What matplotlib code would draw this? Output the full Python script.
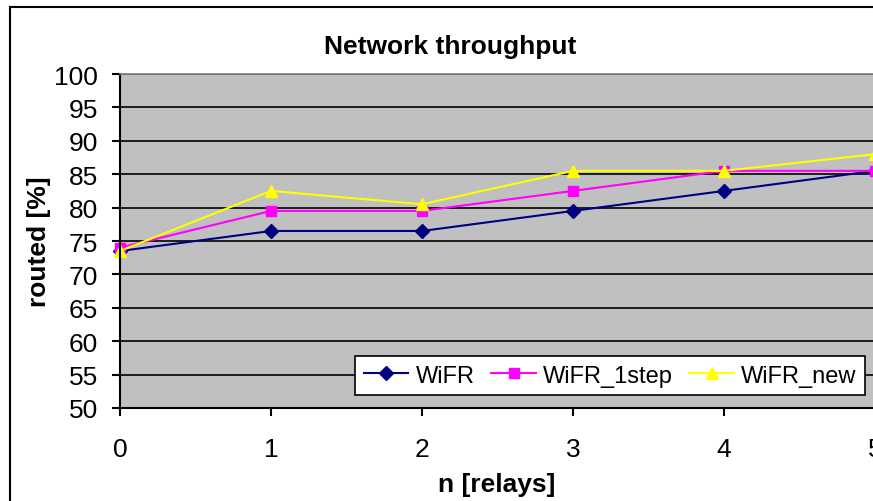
import matplotlib
matplotlib.use("Agg")
import matplotlib.pyplot as plt
from matplotlib.patches import Rectangle

plt.rcParams['font.family'] = ['Liberation Sans', 'DejaVu Sans']

relays = [0, 1, 2, 3, 4, 5]
wifr = [73.5, 76.5, 76.5, 79.5, 82.5, 85.5]
wifr_1step = [74.0, 79.5, 79.5, 82.5, 85.5, 85.5]
wifr_new = [73.5, 82.5, 80.5, 85.5, 85.5, 88.0]
y_ticks = list(range(50, 101, 5))

W, H = 873, 502
fig = plt.figure(figsize=(W / 100, H / 100), dpi=100)

# outer chart frame (extends past the right and bottom edges)
fig.patches.append(Rectangle((10 / W, -0.05), 1.2, 1 - 8 / H + 0.05,
                             transform=fig.transFigure, fill=False,
                             edgecolor='black', linewidth=1.5))

ax_left, ax_bottom, ax_w, ax_h = 120, 409, 755, 334
ax = fig.add_axes([ax_left / W, (H - ax_bottom) / H, ax_w / W, ax_h / H])
ax.set_facecolor('#C0C0C0')

ax.plot(relays, wifr, color='#000080', marker='D', markersize=7, linewidth=1.5,
        label='WiFR', clip_on=False)
ax.plot(relays, wifr_1step, color='#FF00FF', marker='s', markersize=7, linewidth=1.5,
        label='WiFR_1step', clip_on=False)
ax.plot(relays, wifr_new, color='#FFFF00', marker='^', markersize=9, linewidth=1.5,
        label='WiFR_new', clip_on=False)

ax.set_xlim(0, 5)
ax.set_ylim(50, 100)
ax.set_yticks(y_ticks)
ax.set_xticks(relays)
ax.yaxis.grid(True, color='black', linewidth=1.2)
ax.set_axisbelow(True)

for side in ('top', 'right'):
    ax.spines[side].set_color('#808080')
    ax.spines[side].set_linewidth(1.2)
ax.spines['left'].set_linewidth(1.5)
ax.spines['bottom'].set_linewidth(1.5)

ax.tick_params(axis='y', direction='out', length=6, width=1.5, labelsize=19, pad=10)
ax.tick_params(axis='x', direction='out', length=6, width=1.5, labelsize=19, pad=15)

ax.set_title('Network throughput', fontsize=19, fontweight='bold', pad=15,
             x=(450 - ax_left) / ax_w)
ax.set_ylabel('routed [%]', fontsize=19, fontweight='bold', labelpad=2)
ax.set_xlabel('n [relays]', fontsize=19, fontweight='bold', labelpad=8,
              x=(497 - ax_left) / ax_w)

leg = ax.legend(loc='lower right',
                bbox_to_anchor=((865 - ax_left) / ax_w, (ax_bottom - 396) / ax_h),
                borderaxespad=0, ncol=3, fontsize=17, frameon=True, fancybox=False,
                framealpha=1, edgecolor='black', handlelength=1.9, handletextpad=0.3,
                columnspacing=0.7, borderpad=0.35)
leg.get_frame().set_linewidth(1.2)

fig.savefig('out.png', dpi=100)
